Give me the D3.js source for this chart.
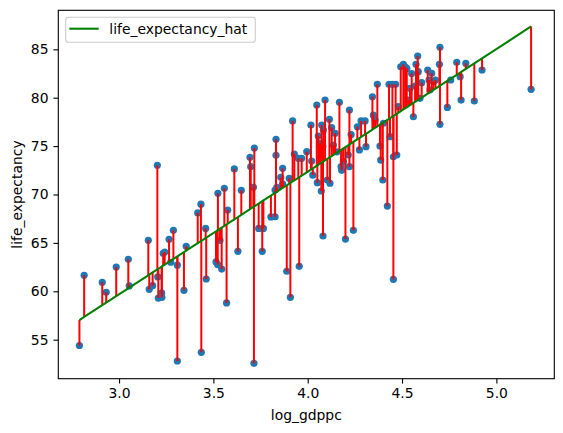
<!DOCTYPE html>
<html>
<head>
<meta charset="utf-8">
<script src="https://cdn.jsdelivr.net/npm/d3@7/dist/d3.min.js"></script>
<style>
  html, body { margin: 0; padding: 0; background: #fff; }
  svg { display: block; }
  text { font-family: "DejaVu Sans", sans-serif; }
</style>
</head>
<body>
<svg id="chart" width="563" height="433"></svg>
<script>
// ---- data ----
const logGdppc = [
  2.790, 2.815, 2.911, 2.932, 2.985, 3.049, 3.054, 3.155, 3.160, 3.178,
  3.203, 3.205, 3.208, 3.226, 3.227, 3.234, 3.242, 3.265, 3.274, 3.288,
  3.309, 3.309, 3.344, 3.356, 3.417, 3.436, 3.434, 3.459, 3.462, 3.514,
  3.523, 3.524, 3.535, 3.544, 3.558, 3.570, 3.576, 3.611, 3.630, 3.648,
  3.694, 3.698, 3.712, 3.715, 3.717, 3.740, 3.759, 3.765, 3.805, 3.827,
  3.832, 3.832, 3.836, 3.827, 3.857, 3.867, 3.867, 3.889, 3.902, 3.908,
  3.920, 3.929, 3.950, 3.955, 3.968, 3.995, 4.017, 4.021, 4.027, 4.048,
  4.051, 4.056, 4.065, 4.072, 4.074, 4.081, 4.083, 4.080, 4.092, 4.104,
  4.115, 4.118, 4.127, 4.136, 4.145, 4.154, 4.168, 4.177, 4.180, 4.189,
  4.200, 4.215, 4.221, 4.221, 4.230, 4.242, 4.263, 4.274, 4.283, 4.304,
  4.309, 4.343, 4.348, 4.357, 4.369, 4.387, 4.383, 4.398, 4.401, 4.422,
  4.431, 4.436, 4.449, 4.454, 4.454, 4.466, 4.472, 4.480, 4.493, 4.507,
  4.516, 4.525, 4.533, 4.542, 4.551, 4.560, 4.569, 4.574, 4.583, 4.586,
  4.595, 4.604, 4.636, 4.643, 4.648, 4.657, 4.666, 4.677, 4.698, 4.701,
  4.701, 4.740, 4.758, 4.790, 4.808, 4.813, 4.838, 4.883, 4.924, 5.184
];
const lifeExpectancy = [
  54.4, 61.65, 60.93, 59.9, 62.5, 63.3, 60.55, 65.27, 60.2, 60.58,
  73.02, 61.48, 59.3, 59.83, 59.38, 63.93, 64.06, 65.37, 63.0, 66.3,
  62.7, 52.8, 60.1, 64.65, 68.1, 53.7, 69.0, 66.5, 61.27, 63.03,
  62.75, 70.12, 65.27, 62.3, 70.64, 58.8, 68.4, 72.64, 64.13, 70.43,
  73.84, 72.87, 70.74, 52.56, 74.8, 66.5, 64.13, 66.5, 67.68, 67.7,
  75.7, 74.05, 70.74, 70.46, 71.78, 72.7, 71.1, 62.07, 71.67, 59.38,
  77.6, 74.18, 73.74, 62.58, 73.74, 74.42, 77.18, 73.46, 72.0, 79.24,
  71.22, 76.04, 75.28, 70.36, 77.18, 65.71, 76.66, 74.94, 79.76, 71.5,
  77.77, 71.16, 76.9, 75.1, 76.32, 74.4, 79.52, 72.87, 72.5, 73.4,
  65.4, 74.08, 78.73, 72.87, 76.2, 66.3, 77.0, 74.6, 77.6, 77.6,
  74.94, 80.1, 78.2, 77.7, 81.38, 73.56, 75.0, 71.5, 77.36, 68.8,
  81.38, 75.97, 81.38, 73.9, 61.24, 81.38, 74.08, 79.07, 83.2, 83.45,
  83.2, 83.03, 79.76, 80.97, 82.5, 78.03, 81.2, 83.45, 84.3, 82.69,
  79.94, 81.55, 82.86, 81.83, 80.8, 82.52, 81.66, 81.83, 83.45, 85.2,
  77.25, 79.0, 81.83, 83.66, 82.17, 79.76, 83.55, 79.66, 82.86, 80.87
];
// fitted line coefficients
const hatIntercept = 21.68;
const hatSlope = 12.67;
const xTicks = [3.0, 3.5, 4.0, 4.5, 5.0];
const yTicks = [55, 60, 65, 70, 75, 80, 85];
const xLabel = "log_gdppc";
const yLabel = "life_expectancy";
const legendLabel = "life_expectancy_hat";

const data = logGdppc.map((x, i) => ({
  x, y: lifeExpectancy[i], hat: hatIntercept + hatSlope * x
}));

// ---- layout ----
const L = 58.3, R = 554.3, T = 10.3, B = 378.7;
const svg = d3.select("#chart");

const xs = d3.scaleLinear().domain([2.678, 5.307]).range([L, R]);
const ys = d3.scaleLinear().domain([50.97, 89.03]).range([B, T]);

// scatter
svg.append("g").selectAll("circle").data(data).join("circle")
  .attr("cx", d => xs(d.x)).attr("cy", d => ys(d.y))
  .attr("r", 3.6).attr("fill", "#1f77b4");

// residual lines
svg.append("g").selectAll("line").data(data).join("line")
  .attr("x1", d => xs(d.x)).attr("x2", d => xs(d.x))
  .attr("y1", d => ys(d.y)).attr("y2", d => ys(d.hat))
  .attr("stroke", "#ff0000").attr("stroke-width", 2);

// fitted line
const sorted = data.slice().sort((a, b) => a.x - b.x);
svg.append("path").datum(sorted)
  .attr("d", d3.line().x(d => xs(d.x)).y(d => ys(d.hat)))
  .attr("fill", "none").attr("stroke", "#008000").attr("stroke-width", 2.08);

// axes
const xAxis = d3.axisBottom(xs).tickValues(xTicks).tickFormat(d3.format(".1f"))
  .tickSizeInner(4.86).tickSizeOuter(0).tickPadding(4.9);
const yAxis = d3.axisLeft(ys).tickValues(yTicks).tickFormat(d3.format("d"))
  .tickSizeInner(4.86).tickSizeOuter(0).tickPadding(4.9);

const gx = svg.append("g").attr("transform", `translate(0,${B})`).call(xAxis);
const gy = svg.append("g").attr("transform", `translate(${L},0)`).call(yAxis);
[gx, gy].forEach(g => {
  g.select(".domain").remove();
  g.selectAll(".tick line").attr("stroke", "#000").attr("stroke-width", 1.1);
  g.selectAll(".tick text").attr("font-size", "13.9px").attr("fill", "#000")
    .style("font-family", "DejaVu Sans, sans-serif");
});

// frame
svg.append("rect").attr("x", L).attr("y", T).attr("width", R - L).attr("height", B - T)
  .attr("fill", "none").attr("stroke", "#000").attr("stroke-width", 1.1);

// axis labels
svg.append("text").attr("x", (L + R) / 2).attr("y", 419.5)
  .attr("text-anchor", "middle").attr("font-size", "13.9px").attr("fill", "#000")
  .text(xLabel);
svg.append("text")
  .attr("transform", `translate(21.5,${(T + B) / 2}) rotate(-90)`)
  .attr("text-anchor", "middle").attr("font-size", "13.9px").attr("fill", "#000")
  .text(yLabel);

// legend
const lg = svg.append("g");
lg.append("rect").attr("x", 65.7).attr("y", 17.3).attr("width", 189.6).attr("height", 25)
  .attr("rx", 2.8).attr("fill", "#fff").attr("fill-opacity", 0.8)
  .attr("stroke", "#cccccc").attr("stroke-width", 1.1);
lg.append("line").attr("x1", 69.3).attr("x2", 98.7).attr("y1", 28.7).attr("y2", 28.7)
  .attr("stroke", "#008000").attr("stroke-width", 2.08);
lg.append("text").attr("x", 109.3).attr("y", 33.6).attr("font-size", "13.9px")
  .attr("fill", "#000").text(legendLabel);
</script>
</body>
</html>
